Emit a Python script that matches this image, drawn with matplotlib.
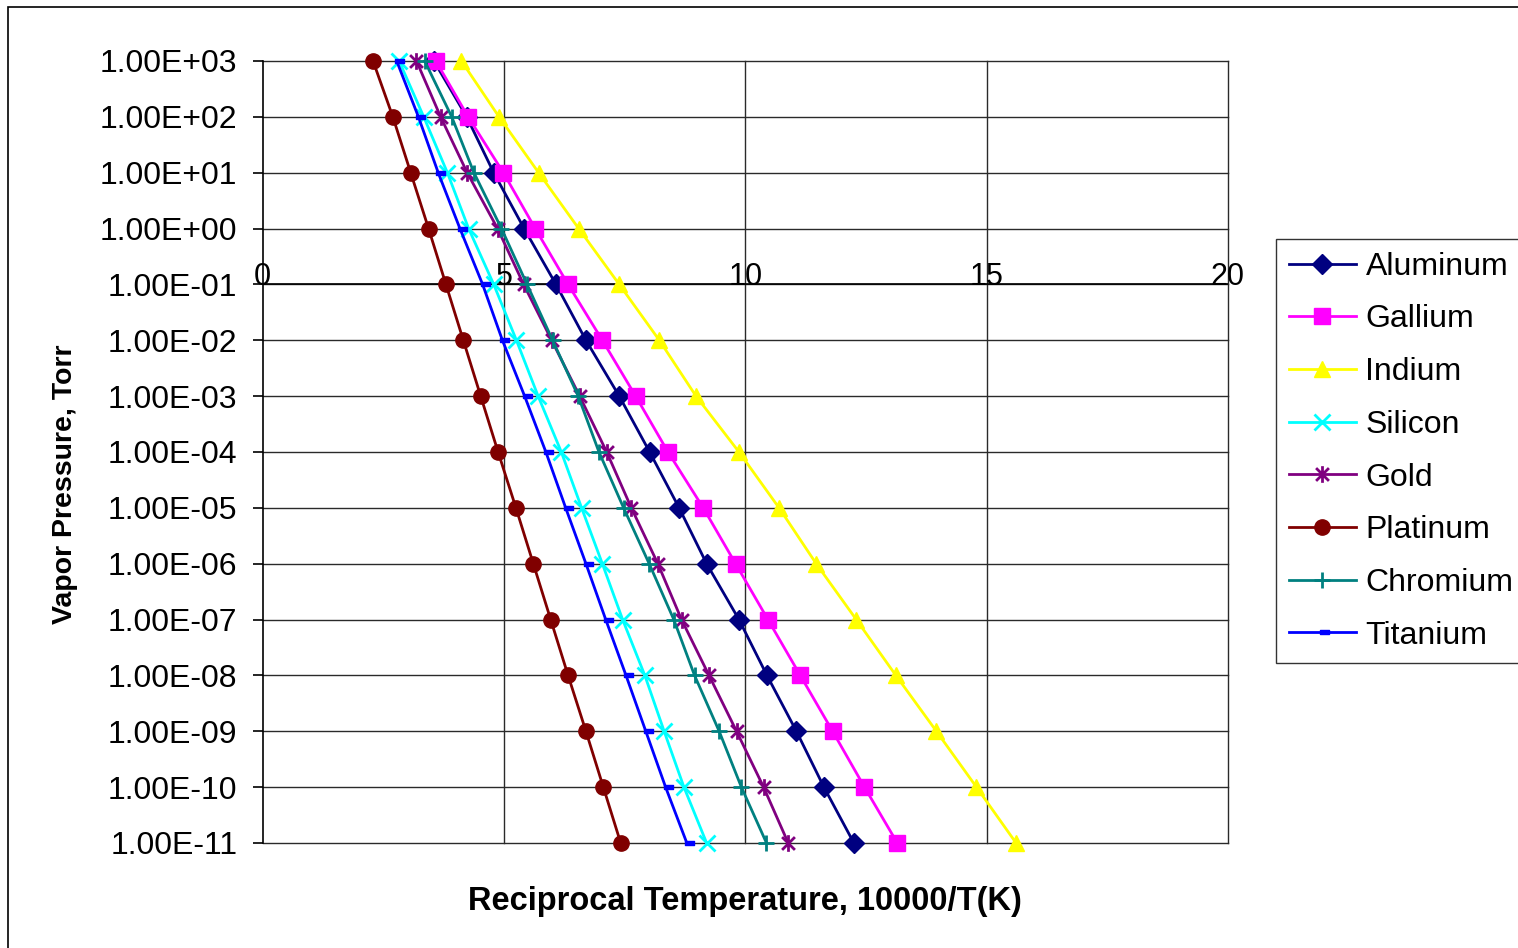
import numpy as np
import matplotlib
matplotlib.use('Agg')
import matplotlib.pyplot as plt
from matplotlib.path import Path
from matplotlib.patches import Rectangle
from matplotlib.ticker import FixedLocator, FuncFormatter, NullLocator

plt.rcParams['font.family'] = ['Liberation Sans', 'DejaVu Sans']

# ================== 数据 ==================
# 蒸气压 (Torr)，每个十进位一点
PRESSURE = [1e3, 1e2, 1e1, 1e0, 1e-1, 1e-2, 1e-3, 1e-4, 1e-5,
            1e-6, 1e-7, 1e-8, 1e-9, 1e-10, 1e-11]

# 10000/T(K)
ALUMINUM = [3.55, 4.23, 4.79, 5.42, 6.08, 6.70, 7.39, 8.02, 8.63, 9.20, 9.87, 10.45, 11.06, 11.63, 12.25]
GALLIUM = [3.59, 4.26, 4.99, 5.65, 6.33, 7.04, 7.73, 8.40, 9.13, 9.80, 10.47, 11.14, 11.81, 12.47, 13.15]
INDIUM = [4.12, 4.90, 5.72, 6.55, 7.39, 8.22, 8.98, 9.87, 10.70, 11.47, 12.30, 13.12, 13.96, 14.79, 15.61]
SILICON = [2.83, 3.34, 3.83, 4.27, 4.79, 5.26, 5.71, 6.19, 6.61, 7.04, 7.46, 7.92, 8.32, 8.73, 9.20]
GOLD = [3.19, 3.69, 4.24, 4.87, 5.41, 5.99, 6.57, 7.13, 7.64, 8.19, 8.68, 9.25, 9.82, 10.38, 10.89]
PLATINUM = [2.29, 2.70, 3.07, 3.44, 3.80, 4.16, 4.52, 4.88, 5.25, 5.61, 5.97, 6.33, 6.70, 7.06, 7.42]
CHROMIUM = [3.36, 3.92, 4.38, 4.95, 5.48, 6.01, 6.54, 6.97, 7.48, 8.01, 8.52, 8.95, 9.46, 9.92, 10.44]
TITANIUM = [2.78, 3.23, 3.64, 4.09, 4.56, 4.97, 5.43, 5.87, 6.28, 6.70, 7.11, 7.53, 7.94, 8.35, 8.79]

NAMES = ['Aluminum', 'Gallium', 'Indium', 'Silicon', 'Gold', 'Platinum', 'Chromium', 'Titanium']
SERIES = [ALUMINUM, GALLIUM, INDIUM, SILICON, GOLD, PLATINUM, CHROMIUM, TITANIUM]

X_TICKS = [0, 5, 10, 15, 20]

# ================== 样式 ==================
star = Path([(-1, -1), (1, 1), (-1, 1), (1, -1), (0, -1.3), (0, 1.3)],
            [Path.MOVETO, Path.LINETO, Path.MOVETO, Path.LINETO, Path.MOVETO, Path.LINETO])
dash = Path([(-0.2, -0.3), (0.9, -0.3), (0.9, 0.3), (-0.2, 0.3), (-0.2, -0.3)],
            [Path.MOVETO, Path.LINETO, Path.LINETO, Path.LINETO, Path.CLOSEPOLY])

STYLES = [
    dict(color='#000080', marker='D', ms=10),
    dict(color='#FF00FF', marker='s', ms=11),
    dict(color='#FFFF00', marker='^', ms=12),
    dict(color='#00FFFF', marker='x', ms=11, mew=2),
    dict(color='#800080', marker=star, ms=12, mew=2, mfc='none'),
    dict(color='#800000', marker='o', ms=11),
    dict(color='#008080', marker='+', ms=12, mew=2),
    dict(color='#0000FF', marker=dash, ms=10),
]

W, H = 1518, 948
fig = plt.figure(figsize=(W / 100, H / 100), dpi=100)
fig.patch.set_facecolor('white')

# 图表区边框
fig.patches.append(Rectangle((8 / W, -0.05), 1.1, (H - 7) / H + 0.05,
                             transform=fig.transFigure, fill=False,
                             edgecolor='black', linewidth=1.2))

left, right, top, bottom = 262.5, 1228, 61, 843
ax = fig.add_axes([left / W, 1 - bottom / H, (right - left) / W, (bottom - top) / H])

ax.set_yscale('log')
ax.set_xlim(0, 20)
ax.set_ylim(1e-11, 1e3)

# 网格
for yv in PRESSURE:
    ax.axhline(yv, color='#2a2a2a', lw=1.0, zorder=1, clip_on=False)
for xv in X_TICKS[1:]:
    ax.axvline(xv, color='#2a2a2a', lw=1.0, zorder=1, clip_on=False)

# x轴在 0.1 处交叉
ax.axhline(0.1, color='black', lw=1.2, zorder=1.5)

for s in ['top', 'right', 'bottom']:
    ax.spines[s].set_visible(False)
ax.spines['left'].set_linewidth(1.2)

ax.xaxis.set_major_locator(NullLocator())
ax.yaxis.set_major_locator(FixedLocator(PRESSURE))
ax.yaxis.set_minor_locator(NullLocator())
ax.yaxis.set_major_formatter(FuncFormatter(lambda v, p: ('%.2E' % v)))
ax.tick_params(axis='y', direction='out', length=7, width=1.2, labelsize=23, pad=11)

for xv in X_TICKS:
    ax.annotate(str(xv), xy=(xv, 0.1), xytext=(0, 5), textcoords='offset points',
                ha='center', va='center', fontsize=22, zorder=2)

for name, xs, st in zip(NAMES, SERIES, STYLES):
    ax.plot(xs, PRESSURE, lw=2, label=name, zorder=3, clip_on=False, **st)

ax.set_xlabel('Reciprocal Temperature, 10000/T(K)', fontsize=23.5, fontweight='bold', labelpad=31)
ax.set_ylabel('Vapor Pressure, Torr', fontsize=20.5, fontweight='bold', va='center')
ax.yaxis.set_label_coords(-0.2046, 0.459)

leg = fig.legend(loc='upper left', bbox_to_anchor=(1276 / W, 1 - 239 / H),
                 fontsize=23, frameon=True, fancybox=False, edgecolor='black',
                 handlelength=2.1, handletextpad=0.3, labelspacing=0.71,
                 borderpad=0.4, borderaxespad=0)
leg.get_frame().set_linewidth(1.0)

fig.savefig('out.png', dpi=100, facecolor='white')
